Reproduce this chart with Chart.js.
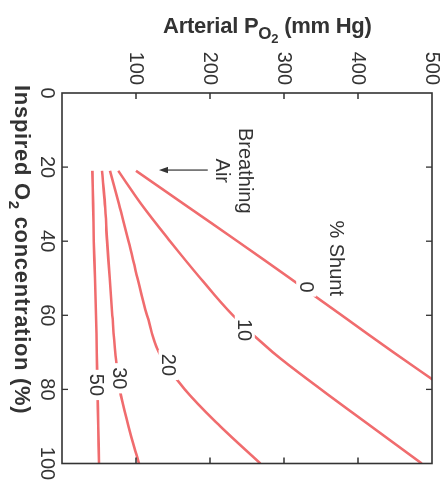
<!DOCTYPE html>
<html>
<head>
<meta charset="utf-8">
<script src="https://cdn.jsdelivr.net/npm/chart.js@4/dist/chart.umd.min.js"></script>
<style>
  html,body{margin:0;padding:0;background:#fff;}
  #page{position:absolute;left:0;top:0;width:446px;height:482px;overflow:hidden;background:#fff;}
  #rot{position:absolute;left:0;top:0;width:482px;height:446px;transform-origin:0 0;transform:translate(446px,0) rotate(90deg);}
  .title{position:absolute;white-space:nowrap;font-family:"Liberation Sans",Arial,sans-serif;font-weight:bold;font-size:22px;line-height:22px;color:#333;}
  #ttop{left:163px;top:15px;letter-spacing:-0.25px;}
  #tleft{left:33px;top:85px;letter-spacing:0.7px;transform-origin:0 0;transform:rotate(90deg);}
  .s1{font-size:17px;position:relative;top:6px;}
  .s2{font-size:13px;position:relative;top:4px;}
  .s0{font-size:15px;position:relative;top:6px;}
</style>
</head>
<body>
<div id="page">
  <div id="rot"><canvas id="c" width="482" height="446"></canvas></div>
  <div class="title" id="ttop">Arterial P<span class="s1">O<span class="s2">2</span></span> (mm Hg)</div>
  <div class="title" id="tleft">Inspired O<span class="s0">2</span> concentration (%)</div>
</div>
<script>
// ---- data ----
const inspiredO2 = [21, 30, 40, 50, 60, 70, 80, 90, 100];          // % inspired O2
const shuntLabels = ['0', '10', '20', '30', '50'];                  // % shunt
const pao2Shunt0  = [100, 165, 237, 308, 378, 448, 520, null, null]; // runs off the top (500) near 77 %
const pao2Shunt10 = [76, 107, 146, 187, 231, 285, 350, 418, 486];
const pao2Shunt20 = [65, 77, 90, 102, 115, 131, 166, 214, 268];
const pao2Shunt30 = [54, 58, 61, 64.5, 68, 72, 78, 90, 104];
const pao2Shunt50 = [41, 42, 43, 44.5, 46, 47, 48, 49, 50];
const o2Ticks  = [0, 20, 40, 60, 80, 100];
const po2Ticks = [100, 200, 300, 400, 500];
// label anchors (data space)
const labelO2  = [52.4, 64, 73.4, 77, 78.8];
const labelPO2 = [330, 247, 144, 78, 47.3];
const shuntTitle = '% Shunt';
const shuntTitleAt = [44.6, 369];
const airText = ['Breathing', 'Air'];
const airTextO2 = 21;
const airTextPO2 = [247, 215];
const arrowO2 = 20.8;
const arrowPO2 = [197, 131];

const series = [pao2Shunt0, pao2Shunt10, pao2Shunt20, pao2Shunt30, pao2Shunt50];
const RED = 'rgb(240,108,110)';
const INK = '#333';
const FONT = '"Liberation Sans", Arial, sans-serif';

const datasets = series.map((arr, i) => ({
  label: shuntLabels[i] + '% shunt',
  data: inspiredO2.map((x, j) => ({x: x, y: arr[j]})).filter(p => p.y !== null),
  borderColor: RED,
  borderWidth: 2.6,
  pointRadius: 0,
  fill: false,
  tension: 0.35
}));

const framePlugin = {
  id: 'frame',
  afterDatasetsDraw(chart) {
    const {ctx, chartArea: a, scales: {x, y}} = chart;
    ctx.save();
    ctx.font = '20px ' + FONT;
    ctx.textAlign = 'center';
    ctx.textBaseline = 'middle';
    shuntLabels.forEach((t, i) => {
      const px = x.getPixelForValue(labelO2[i]);
      const py = y.getPixelForValue(labelPO2[i]);
      const w = ctx.measureText(t).width;
      ctx.fillStyle = '#fff';
      ctx.fillRect(px - w / 2 - 4, py - 10, w + 8, 20);
      ctx.fillStyle = INK;
      ctx.fillText(t, px, py + 1);
    });
    ctx.fillText(shuntTitle, x.getPixelForValue(shuntTitleAt[0]), y.getPixelForValue(shuntTitleAt[1]));
    airText.forEach((t, i) => ctx.fillText(t, x.getPixelForValue(airTextO2), y.getPixelForValue(airTextPO2[i])));
    const ax = x.getPixelForValue(arrowO2);
    const y0 = y.getPixelForValue(arrowPO2[0]);
    const y1 = y.getPixelForValue(arrowPO2[1]);
    ctx.strokeStyle = INK; ctx.lineWidth = 1.2;
    ctx.beginPath(); ctx.moveTo(ax, y0); ctx.lineTo(ax, y1 - 6); ctx.stroke();
    ctx.fillStyle = INK;
    ctx.beginPath(); ctx.moveTo(ax, y1); ctx.lineTo(ax - 3.2, y1 - 9); ctx.lineTo(ax + 3.2, y1 - 9); ctx.closePath(); ctx.fill();
    ctx.strokeStyle = INK; ctx.lineWidth = 1.6;
    ctx.strokeRect(a.left, a.top, a.right - a.left, a.bottom - a.top);
    const L = 6;
    ctx.lineWidth = 1.3;
    ctx.beginPath();
    o2Ticks.forEach(v => {
      if (v === 0 || v === 100) return;
      const px = x.getPixelForValue(v);
      ctx.moveTo(px, a.bottom); ctx.lineTo(px, a.bottom - L);
      ctx.moveTo(px, a.top); ctx.lineTo(px, a.top + L);
    });
    po2Ticks.forEach(v => {
      if (v === 500) return;
      const py = y.getPixelForValue(v);
      ctx.moveTo(a.left, py); ctx.lineTo(a.left + L, py);
      ctx.moveTo(a.right, py); ctx.lineTo(a.right - L, py);
    });
    ctx.stroke();
    ctx.restore();
  }
};

new Chart(document.getElementById('c'), {
  type: 'line',
  data: {datasets},
  options: {
    responsive: false,
    animation: false,
    layout: {padding: {top: 14, right: 18.5, left: 0, bottom: 0}},
    plugins: {legend: {display: false}, tooltip: {enabled: false}},
    scales: {
      x: {
        type: 'linear', min: 0, max: 100,
        afterBuildTicks: s => { s.ticks = o2Ticks.map(v => ({value: v})); },
        ticks: {padding: 3, color: INK, font: {family: FONT, size: 20}, maxRotation: 0, autoSkip: false},
        grid: {display: false, drawTicks: false},
        border: {display: false},
        afterFit: s => { s.height = 62; s.paddingLeft = 0; s.paddingRight = 0; }
      },
      y: {
        type: 'linear', min: 0, max: 500,
        afterBuildTicks: s => { s.ticks = [0].concat(po2Ticks).map(v => ({value: v})); },
        ticks: {padding: 8, color: INK, font: {family: FONT, size: 20}, callback: v => v === 0 ? '' : String(v)},
        grid: {display: false, drawTicks: false},
        border: {display: false},
        afterFit: s => { s.width = 93; s.paddingTop = 0; s.paddingBottom = 0; }
      }
    }
  },
  plugins: [framePlugin]
});
</script>
</body>
</html>
